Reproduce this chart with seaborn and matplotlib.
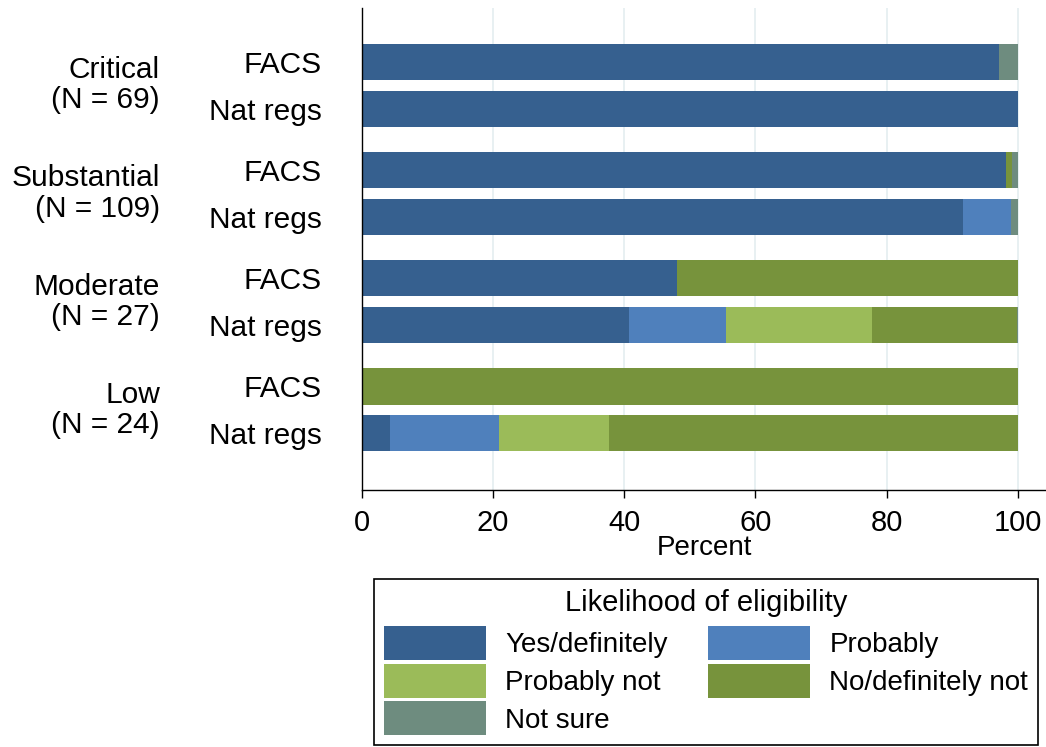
import matplotlib
matplotlib.use('Agg')
import matplotlib.pyplot as plt
import matplotlib.transforms as mtransforms
from matplotlib.patches import Patch
import pandas as pd
import seaborn as sns

# Data (percent of each bar)
groups = ['Critical\n(N = 69)', 'Substantial\n(N = 109)', 'Moderate\n(N = 27)', 'Low\n(N = 24)']
sources = ['FACS', 'Nat regs']
categories = ['Yes/definitely', 'Probably', 'Probably not', 'No/definitely not', 'Not sure']
colors = ['#36608f', '#4f80bc', '#9bbb59', '#77933c', '#6e8c7f']

# bar order: Critical FACS, Critical Nat regs, Substantial FACS, ... Low Nat regs
yes = [97.1, 100.0, 98.2, 91.7, 48.1, 40.7, 0.0, 4.2]
probably = [0.0, 0.0, 0.0, 7.3, 0.0, 14.8, 0.0, 16.7]
probably_not = [0.0, 0.0, 0.0, 0.0, 0.0, 22.2, 0.0, 16.7]
no = [0.0, 0.0, 0.9, 0.0, 51.9, 22.2, 100.0, 62.4]
not_sure = [2.9, 0.0, 0.9, 1.0, 0.0, 0.1, 0.0, 0.0]

group_step = 2.31
pos = [g * group_step + j for g in range(len(groups)) for j in range(len(sources))]

df = pd.DataFrame({'pos': pos, 'Yes/definitely': yes, 'Probably': probably,
                   'Probably not': probably_not, 'No/definitely not': no,
                   'Not sure': not_sure})
cum = df[categories].cumsum(axis=1)

sns.set_style('white')
plt.rcParams['font.family'] = ['Liberation Sans', 'DejaVu Sans']
plt.rcParams['text.color'] = 'black'
plt.rcParams['xtick.color'] = 'black'
plt.rcParams['ytick.color'] = 'black'
plt.rcParams['axes.labelcolor'] = 'black'
fs = 21.5

fig = plt.figure(figsize=(10.46, 7.47), dpi=100)
ax = fig.add_axes([362 / 1046, 1 - 490 / 747, (1046 - 362) / 1046, (490 - 8) / 747])

# stacked bars: draw cumulative totals from the last category back to the first
for k in reversed(range(len(categories))):
    sns.barplot(x=cum[categories[k]], y=df['pos'], orient='h', native_scale=True,
                color=colors[k], saturation=1, width=0.77, linewidth=0,
                errorbar=None, ax=ax)

ax.set_xlim(0, 104.3)
ax.set_ylim(max(pos) + 1.21, min(pos) - 1.15)
ax.set_xticks([0, 20, 40, 60, 80, 100])
ax.tick_params(axis='x', bottom=True, length=6, width=1, color='black',
               labelsize=21, pad=8)
ax.set_yticks(pos, labels=sources * len(groups))
ax.tick_params(axis='y', left=False, length=0, labelsize=fs, pad=29)
ax.set_xlabel('Percent', fontsize=20, labelpad=-2)
ax.set_ylabel('')
ax.xaxis.grid(True, color='#e4eef0', lw=1.2)
ax.yaxis.grid(False)
ax.set_axisbelow(True)
for side in ['top', 'right']:
    ax.spines[side].set_visible(False)
for side in ['left', 'bottom']:
    ax.spines[side].set_color('black')
    ax.spines[side].set_linewidth(1)

trans = mtransforms.blended_transform_factory(fig.transFigure, ax.transData)
for g, name in enumerate(groups):
    ax.text(160 / 1046, g * group_step + 0.5, name, transform=trans, ha='right',
            va='center', fontsize=fs, linespacing=1.1)

lfs = 20
order = [0, 2, 4, 1, 3]
handles = [Patch(facecolor=colors[i], edgecolor='none', label=categories[i]) for i in order]
leg = fig.legend(handles=handles, ncol=2, title='Likelihood of eligibility',
                 loc='lower center', bbox_to_anchor=(706 / 1046, 2 / 747),
                 fontsize=lfs, title_fontsize=21, frameon=True, fancybox=False,
                 edgecolor='black', framealpha=1, handlelength=3.67, handleheight=1.5,
                 handletextpad=0.7, columnspacing=1.44, labelspacing=0.13,
                 borderpad=0.35, borderaxespad=0)
leg.get_frame().set_linewidth(1.2)
# a bit more room between the legend title and the entries
leg._legend_box.sep = 7

fig.savefig('out.png', dpi=100)
